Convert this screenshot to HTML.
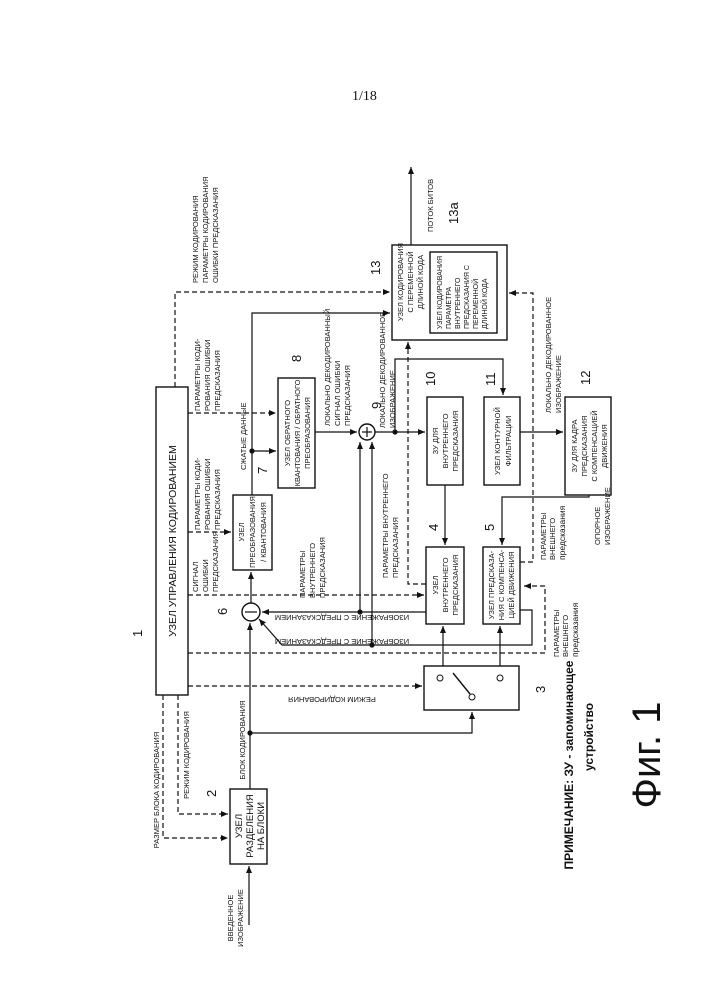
<!DOCTYPE html>
<html><head><meta charset="utf-8">
<style>
html,body{margin:0;padding:0;background:#fff;}
svg{display:block;}
text{font-family:"Liberation Sans",sans-serif;fill:#111;}
.l{font-size:7.5px;}
.b{font-size:8px;}
</style></head><body>
<svg width="707" height="1000" viewBox="0 0 707 1000" xmlns="http://www.w3.org/2000/svg">
<defs>
<marker id="a" markerWidth="8" markerHeight="8" refX="7" refY="4" orient="auto" markerUnits="userSpaceOnUse">
<path d="M0,1 L7,4 L0,7 Z" fill="#111"/></marker>
</defs>
<g stroke="#111" stroke-width="1.4" fill="none">
<rect x="156" y="387" width="32" height="308"/>
<rect x="230" y="789" width="37" height="75"/>
<rect x="424" y="666" width="95" height="44"/>
<rect x="233" y="495" width="39" height="75"/>
<rect x="278" y="378" width="37" height="110"/>
<rect x="426" y="547" width="38" height="77"/>
<rect x="483" y="547" width="37" height="77"/>
<rect x="427" y="397" width="36" height="88"/>
<rect x="484" y="397" width="36" height="88"/>
<rect x="565" y="397" width="46" height="98"/>
<rect x="392" y="245" width="115" height="95"/>
<rect x="430" y="252" width="67" height="81"/>
<circle cx="251" cy="612" r="9"/>
<circle cx="367" cy="432" r="8"/>
<circle cx="440" cy="678" r="3" stroke-width="1"/>
<circle cx="500" cy="678" r="3" stroke-width="1"/>
<circle cx="472" cy="697" r="3" stroke-width="1"/>
<line x1="453" y1="673" x2="470" y2="694"/>
</g>
<g stroke="#111" stroke-width="1.2" fill="none">
<line x1="249" y1="925" x2="249" y2="866" marker-end="url(#a)"/>
<line x1="250" y1="789" x2="250" y2="623" marker-end="url(#a)"/>
<polyline points="250,733 472,733 472,712" marker-end="url(#a)"/>
<line x1="443" y1="666" x2="443" y2="626" marker-end="url(#a)"/>
<line x1="500" y1="666" x2="500" y2="626" marker-end="url(#a)"/>
<line x1="251" y1="603" x2="251" y2="572" marker-end="url(#a)"/>
<line x1="426" y1="612" x2="262" y2="612" marker-end="url(#a)"/>
<polyline points="520,610 532,610 532,645 282,645 259,619" marker-end="url(#a)"/>
<line x1="360" y1="612" x2="360" y2="442" marker-end="url(#a)"/>
<line x1="372" y1="645" x2="372" y2="442" marker-end="url(#a)"/>
<polyline points="252,495 252,313 390,313" marker-end="url(#a)"/>
<line x1="252" y1="451" x2="276" y2="451" marker-end="url(#a)"/>
<line x1="315" y1="432" x2="357" y2="432" marker-end="url(#a)"/>
<line x1="375" y1="432" x2="425" y2="432" marker-end="url(#a)"/>
<polyline points="395,432 395,359 503,359 503,395" marker-end="url(#a)"/>
<line x1="445" y1="485" x2="445" y2="545" marker-end="url(#a)"/>
<line x1="520" y1="432" x2="563" y2="432" marker-end="url(#a)"/>
<polyline points="589,495 589,497 502,497 502,545" marker-end="url(#a)"/>
<line x1="411" y1="245" x2="411" y2="167" marker-end="url(#a)"/>
</g>
<g stroke="#111" stroke-width="1.2" fill="none" stroke-dasharray="5,3">
<polyline points="163,695 163,838 228,838" marker-end="url(#a)"/>
<polyline points="178,695 178,814 228,814" marker-end="url(#a)"/>
<line x1="188" y1="686" x2="422" y2="686" marker-end="url(#a)"/>
<polyline points="188,653 545,653 545,586 524,586" marker-end="url(#a)"/>
<line x1="188" y1="595" x2="424" y2="595" marker-end="url(#a)"/>
<line x1="188" y1="532" x2="231" y2="532" marker-end="url(#a)"/>
<line x1="188" y1="413" x2="276" y2="413" marker-end="url(#a)"/>
<polyline points="175,387 175,292 390,292" marker-end="url(#a)"/>
<polyline points="426,584 408,584 408,342" marker-end="url(#a)"/>
<polyline points="520,562 533,562 533,293 509,293" marker-end="url(#a)"/>
</g>
<g fill="#111">
<circle cx="250" cy="733" r="2.6"/>
<circle cx="360" cy="612" r="2.6"/>
<circle cx="372" cy="645" r="2.6"/>
<circle cx="252" cy="451" r="2.6"/>
<circle cx="395" cy="432" r="2.6"/>
</g>
<g stroke="#111" stroke-width="1.2">
<line x1="245" y1="612" x2="257" y2="612"/>
<line x1="362" y1="432" x2="372" y2="432"/><line x1="367" y1="427" x2="367" y2="437"/>
</g>
<text x="352" y="100" style="font-family:'Liberation Serif',serif;font-size:14px">1/18</text>

<text text-anchor="middle" transform="translate(176,541) rotate(-90)" style="font-size:10.5px">УЗЕЛ УПРАВЛЕНИЯ КОДИРОВАНИЕМ</text>
<g text-anchor="middle" style="font-size:9.5px">
<text transform="translate(242,826) rotate(-90)">УЗЕЛ</text>
<text transform="translate(253,826) rotate(-90)">РАЗДЕЛЕНИЯ</text>
<text transform="translate(264,826) rotate(-90)">НА БЛОКИ</text>
</g>
<g text-anchor="middle" class="l">
<text transform="translate(244,532) rotate(-90)">УЗЕЛ</text>
<text transform="translate(255,532) rotate(-90)">ПРЕОБРАЗОВАНИЯ</text>
<text transform="translate(266,532) rotate(-90)">/ КВАНТОВАНИЯ</text>
<text transform="translate(290,433) rotate(-90)">УЗЕЛ ОБРАТНОГО</text>
<text transform="translate(300,433) rotate(-90)">КВАНТОВАНИЯ / ОБРАТНОГО</text>
<text transform="translate(310,433) rotate(-90)">ПРЕОБРАЗОВАНИЯ</text>
<text transform="translate(438,441) rotate(-90)">ЗУ ДЛЯ</text>
<text transform="translate(448,441) rotate(-90)">ВНУТРЕННЕГО</text>
<text transform="translate(458,441) rotate(-90)">ПРЕДСКАЗАНИЯ</text>
<text transform="translate(500,441) rotate(-90)">УЗЕЛ КОНТУРНОЙ</text>
<text transform="translate(511,441) rotate(-90)">ФИЛЬТРАЦИИ</text>
<text transform="translate(577,446) rotate(-90)">ЗУ ДЛЯ КАДРА</text>
<text transform="translate(587,446) rotate(-90)">ПРЕДСКАЗАНИЯ</text>
<text transform="translate(597,446) rotate(-90)">С КОМПЕНСАЦИЕЙ</text>
<text transform="translate(607,446) rotate(-90)">ДВИЖЕНИЯ</text>
<text transform="translate(403,282) rotate(-90)">УЗЕЛ КОДИРОВАНИЯ</text>
<text transform="translate(413,282) rotate(-90)">С ПЕРЕМЕННОЙ</text>
<text transform="translate(423,282) rotate(-90)">ДЛИНОЙ КОДА</text>
<text transform="translate(438,585) rotate(-90)">УЗЕЛ</text>
<text transform="translate(448,585) rotate(-90)">ВНУТРЕННЕГО</text>
<text transform="translate(458,585) rotate(-90)">ПРЕДСКАЗАНИЯ</text>
<text transform="translate(494,585) rotate(-90)">УЗЕЛ ПРЕДСКАЗА-</text>
<text transform="translate(504,585) rotate(-90)">НИЯ С КОМПЕНСА-</text>
<text transform="translate(514,585) rotate(-90)">ЦИЕЙ ДВИЖЕНИЯ</text>
</g>
<g style="font-size:7px">
<text transform="translate(442,329) rotate(-90)">УЗЕЛ КОДИРОВАНИЯ</text>
<text transform="translate(451,329) rotate(-90)">ПАРАМЕТРА</text>
<text transform="translate(460,329) rotate(-90)">ВНУТРЕННЕГО</text>
<text transform="translate(469,329) rotate(-90)">ПРЕДСКАЗАНИЯ С</text>
<text transform="translate(478,329) rotate(-90)">ПЕРЕМЕННОЙ</text>
<text transform="translate(487,329) rotate(-90)">ДЛИНОЙ КОДА</text>
</g>
<g class="l">
<text transform="translate(159,790) rotate(-90)" text-anchor="middle">РАЗМЕР БЛОКА КОДИРОВАНИЯ</text>
<text transform="translate(189,755) rotate(-90)" text-anchor="middle">РЕЖИМ КОДИРОВАНИЯ</text>
<text transform="translate(245,740) rotate(-90)" text-anchor="middle">БЛОК КОДИРОВАНИЯ</text>
<text transform="translate(233,918) rotate(-90)" text-anchor="middle">ВВЕДЕННОЕ</text>
<text transform="translate(243,918) rotate(-90)" text-anchor="middle">ИЗОБРАЖЕНИЕ</text>
<text transform="translate(332,697) rotate(180)" text-anchor="middle">РЕЖИМ КОДИРОВАНИЯ</text>
<text transform="translate(342,615) rotate(180)" text-anchor="middle">ИЗОБРАЖЕНИЕ С ПРЕДСКАЗАНИЕМ</text>
<text transform="translate(342,639) rotate(180)" text-anchor="middle">ИЗОБРАЖЕНИЕ С ПРЕДСКАЗАНИЕМ</text>
<text transform="translate(198,592) rotate(-90)">СИГНАЛ</text>
<text transform="translate(208,592) rotate(-90)">ОШИБКИ</text>
<text transform="translate(218,592) rotate(-90)">ПРЕДСКАЗАНИЯ</text>
<text transform="translate(200,530) rotate(-90)">ПАРАМЕТРЫ КОДИ-</text>
<text transform="translate(210,530) rotate(-90)">РОВАНИЯ ОШИБКИ</text>
<text transform="translate(220,530) rotate(-90)">ПРЕДСКАЗАНИЯ</text>
<text transform="translate(200,411) rotate(-90)">ПАРАМЕТРЫ КОДИ-</text>
<text transform="translate(210,411) rotate(-90)">РОВАНИЯ ОШИБКИ</text>
<text transform="translate(220,411) rotate(-90)">ПРЕДСКАЗАНИЯ</text>
<text transform="translate(198,283) rotate(-90)">РЕЖИМ КОДИРОВАНИЯ</text>
<text transform="translate(208,283) rotate(-90)">ПАРАМЕТРЫ КОДИРОВАНИЯ</text>
<text transform="translate(218,283) rotate(-90)">ОШИБКИ ПРЕДСКАЗАНИЯ</text>
<text transform="translate(246,470) rotate(-90)">СЖАТЫЕ ДАННЫЕ</text>
<text transform="translate(305,598) rotate(-90)">ПАРАМЕТРЫ</text>
<text transform="translate(315,598) rotate(-90)">ВНУТРЕННЕГО</text>
<text transform="translate(325,598) rotate(-90)">ПРЕДСКАЗАНИЯ</text>
<text transform="translate(330,426) rotate(-90)">ЛОКАЛЬНО ДЕКОДИРОВАННЫЙ</text>
<text transform="translate(340,426) rotate(-90)">СИГНАЛ ОШИБКИ</text>
<text transform="translate(350,426) rotate(-90)">ПРЕДСКАЗАНИЯ</text>
<text transform="translate(385,428) rotate(-90)">ЛОКАЛЬНО ДЕКОДИРОВАННОЕ</text>
<text transform="translate(395,428) rotate(-90)">ИЗОБРАЖЕНИЕ</text>
<text transform="translate(388,578) rotate(-90)">ПАРАМЕТРЫ ВНУТРЕННЕГО</text>
<text transform="translate(398,578) rotate(-90)">ПРЕДСКАЗАНИЯ</text>
<text transform="translate(551,413) rotate(-90)">ЛОКАЛЬНО ДЕКОДИРОВАННОЕ</text>
<text transform="translate(561,413) rotate(-90)">ИЗОБРАЖЕНИЕ</text>
<text transform="translate(433,232) rotate(-90)">ПОТОК БИТОВ</text>
<text transform="translate(546,560) rotate(-90)">ПАРАМЕТРЫ</text>
<text transform="translate(555,560) rotate(-90)">ВНЕШНЕГО</text>
<text transform="translate(565,560) rotate(-90)" style="font-size:8.5px">предсказания</text>
<text transform="translate(600,545) rotate(-90)">ОПОРНОЕ</text>
<text transform="translate(610,545) rotate(-90)">ИЗОБРАЖЕНИЕ</text>
<text transform="translate(559,657) rotate(-90)">ПАРАМЕТРЫ</text>
<text transform="translate(568,657) rotate(-90)">ВНЕШНЕГО</text>
<text transform="translate(578,657) rotate(-90)" style="font-size:8.5px">предсказания</text>
</g>
<g style="font-family:'Liberation Serif',serif;font-size:13px">
<text transform="translate(142,637) rotate(-90)">1</text>
<text transform="translate(216,797) rotate(-90)">2</text>
<text transform="translate(545,693) rotate(-90)">3</text>
<text transform="translate(438,531) rotate(-90)">4</text>
<text transform="translate(494,531) rotate(-90)">5</text>
<text transform="translate(227,615) rotate(-90)">6</text>
<text transform="translate(267,474) rotate(-90)">7</text>
<text transform="translate(301,362) rotate(-90)">8</text>
<text transform="translate(381,409) rotate(-90)">9</text>
<text transform="translate(435,386) rotate(-90)">10</text>
<text transform="translate(495,386) rotate(-90)">11</text>
<text transform="translate(590,385) rotate(-90)">12</text>
<text transform="translate(380,275) rotate(-90)">13</text>
<text transform="translate(458,224) rotate(-90)">13a</text>
</g>
<g style="font-size:12px;font-weight:bold" text-anchor="middle">
<text transform="translate(573,765) rotate(-90)">ПРИМЕЧАНИЕ:  ЗУ - запоминающее</text>
<text transform="translate(593,737) rotate(-90)">устройство</text>
</g>
<text transform="translate(660,755) rotate(-90)" text-anchor="middle" style="font-size:40px">Фиг. 1</text>
</svg>
</body></html>
